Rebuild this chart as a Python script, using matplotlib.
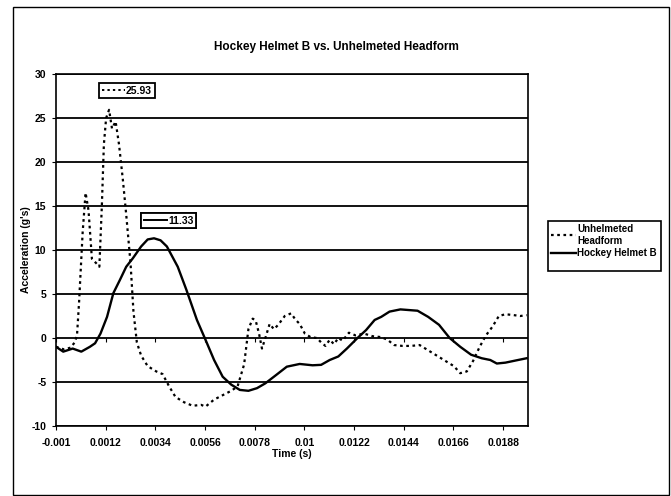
import matplotlib
matplotlib.use("Agg")
import matplotlib.pyplot as plt
from matplotlib.lines import Line2D
from matplotlib.patches import Rectangle

plt.rcParams['font.family'] = ['Liberation Sans', 'DejaVu Sans']
plt.rcParams['font.weight'] = 'bold'
plt.rcParams['axes.unicode_minus'] = False

# time (s) / acceleration (g's)
helmet_t = [-0.0010, -0.00068, -0.00026, 0.00012, 0.0005, 0.00073, 0.00097, 0.00126,
            0.00154, 0.00183, 0.00211, 0.0024, 0.00277, 0.00306, 0.00334, 0.00363,
            0.00391, 0.00439, 0.00477, 0.00524, 0.00562, 0.006, 0.00638, 0.00676,
            0.00714, 0.00752, 0.0079, 0.00827, 0.00875, 0.00922, 0.00979, 0.01036,
            0.01074, 0.01112, 0.0115, 0.01188, 0.01235, 0.01273, 0.01311, 0.0134,
            0.01377, 0.01425, 0.01501, 0.01548, 0.01596, 0.01643, 0.0169, 0.01738,
            0.01785, 0.01823, 0.01852, 0.0189, 0.01946, 0.01984]
helmet_g = [-1.0, -1.55, -1.2, -1.55, -1.0, -0.6, 0.5, 2.4,
            5.1, 6.6, 8.1, 9.05, 10.4, 11.2, 11.33, 11.1,
            10.4, 8.1, 5.5, 2.05, -0.2, -2.5, -4.4, -5.3,
            -5.9, -6.0, -5.7, -5.15, -4.2, -3.26, -2.95, -3.1,
            -3.05, -2.5, -2.1, -1.2, 0.0, 0.9, 2.05, 2.4,
            3.0, 3.25, 3.1, 2.4, 1.5, 0.0, -1.0, -1.9,
            -2.3, -2.5, -2.9, -2.8, -2.5, -2.3]

bare_t = [-0.001, -0.00064, -0.00036, -0.00017, -0.00007, 0.00002, 0.00018, 0.00031,
          0.00044, 0.00059, 0.00078, 0.00092, 0.00103, 0.00112, 0.00122, 0.00135,
          0.00148, 0.00164, 0.00179, 0.00196, 0.00211, 0.0023, 0.00243, 0.00258,
          0.00277, 0.00306, 0.00344, 0.00372, 0.00401, 0.00429, 0.00467, 0.00505,
          0.00543, 0.00562, 0.006, 0.00638, 0.00676, 0.00704, 0.00733, 0.00752,
          0.00771, 0.00784, 0.00799, 0.00812, 0.00827, 0.00846, 0.00865, 0.00884,
          0.00913, 0.00941, 0.0096, 0.00979, 0.01002, 0.01027, 0.01055, 0.01074,
          0.01093, 0.01112, 0.01131, 0.0115, 0.01169, 0.01197, 0.01226, 0.01264,
          0.01302, 0.0134, 0.01368, 0.01397, 0.01434, 0.01472, 0.0151, 0.01548,
          0.01586, 0.01624, 0.01662, 0.0169, 0.01719, 0.01747, 0.01776, 0.01804,
          0.01833, 0.01861, 0.0189, 0.01927, 0.01956, 0.01984]
bare_g = [-1.0, -1.3, -1.1, -0.5, 0.3, 4.0, 12.0, 16.5,
          14.5, 9.0, 8.5, 8.1, 15.0, 22.0, 25.0, 25.93,
          23.8, 24.6, 22.0, 18.0, 14.0, 8.5, 3.0, -0.5,
          -2.0, -3.2, -3.8, -4.1, -5.5, -6.7, -7.3, -7.7,
          -7.6, -7.8, -7.0, -6.5, -6.0, -5.5, -3.0, 1.0,
          2.2, 2.0, 0.5, -1.2, 0.0, 1.6, 1.0, 1.5,
          2.5, 2.8, 2.1, 1.6, 0.5, 0.1, 0.0, -0.5,
          -0.9, -0.2, -0.7, 0.0, -0.3, 0.6, 0.3, 0.5,
          0.2, 0.1, -0.2, -0.8, -0.9, -0.9, -0.8, -1.4,
          -2.0, -2.6, -3.2, -4.0, -3.8, -2.6, -1.0, 0.3,
          1.3, 2.5, 2.7, 2.6, 2.5, 2.6]

xticks = [-0.001, 0.0012, 0.0034, 0.0056, 0.0078, 0.01, 0.0122, 0.0144, 0.0166, 0.0188]
xlabels = ["-0.001", "0.0012", "0.0034", "0.0056", "0.0078", "0.01", "0.0122", "0.0144", "0.0166", "0.0188"]
yticks = [-10, -5, 0, 5, 10, 15, 20, 25, 30]

bare_peak = "25.93"
helmet_peak = "11.33"

W, H = 671, 496
fig = plt.figure(figsize=(W / 100, H / 100), dpi=100)
ax = fig.add_axes([56 / W, 1 - 426 / H, 472 / W, 352 / H])

dot = (0, (1.2, 1.6))
ax.plot(bare_t, bare_g, color="black", lw=1.6, linestyle=dot, label="Unhelmeted\nHeadform")
ax.plot(helmet_t, helmet_g, color="black", lw=1.7, label="Hockey Helmet B")

ax.set_xlim(-0.001, 0.0199)
ax.set_ylim(-10, 30)
ax.set_yticks(yticks)
ax.set_xticks(xticks)
ax.set_xticklabels(xlabels)
ax.tick_params(labelsize=7.5, length=3, width=0.8, direction="out", pad=6)
ax.tick_params(axis="y", pad=4)
ax.grid(axis="y", color="black", lw=1.3)
ax.set_axisbelow(True)
for s in ax.spines.values():
    s.set_linewidth(1.2)

# little ticks where the category axis crosses zero
sec = ax.secondary_xaxis(0.25)
sec.set_xticks(xticks)
sec.tick_params(labelbottom=False, length=3, width=0.8, direction="out")
sec.spines["bottom"].set_visible(False)

fig.text(336 / W, 1 - 47 / H, "Hockey Helmet B vs. Unhelmeted Headform",
         ha="center", va="center", fontsize=8.5, fontweight="bold")
fig.text(292 / W, 1 - 454 / H, "Time (s)", ha="center", va="center", fontsize=7.5)
fig.text(26 / W, 1 - 250 / H, "Acceleration (g's)", ha="center", va="center",
         rotation=90, fontsize=7.5)

# legend box on the right
fig.patches.append(Rectangle((548 / W, 1 - 271 / H), 113 / W, 50 / H, transform=fig.transFigure,
                             fill=False, edgecolor="black", lw=1.2))
fig.legend(loc="upper left", bbox_to_anchor=(549 / W, 1 - 222 / H), frameon=False,
           fontsize=7, handlelength=2.6, handletextpad=0.1, borderpad=0.2,
           labelspacing=0.3, borderaxespad=0)

# data labels with legend keys
for style, txt, x0, y0 in [(dot, bare_peak, 99, 83), ("-", helmet_peak, 141, 213)]:
    lg = ax.legend([Line2D([], [], color="black", lw=1.4, linestyle=style)], [txt],
                   loc="upper left", bbox_to_anchor=(x0 / W, 1 - y0 / H),
                   bbox_transform=fig.transFigure, fontsize=7.5, handlelength=2.2,
                   handletextpad=0.15, borderpad=0.25, borderaxespad=0,
                   fancybox=False, framealpha=1, edgecolor="black")
    lg.get_frame().set_linewidth(1.3)
    ax.add_artist(lg)

# outer chart frame
fig.patches.append(Rectangle((13 / W, 1 / H), 656 / W, 488 / H, transform=fig.transFigure,
                             fill=False, edgecolor="black", lw=1.0))

fig.savefig("out.png", dpi=100)
